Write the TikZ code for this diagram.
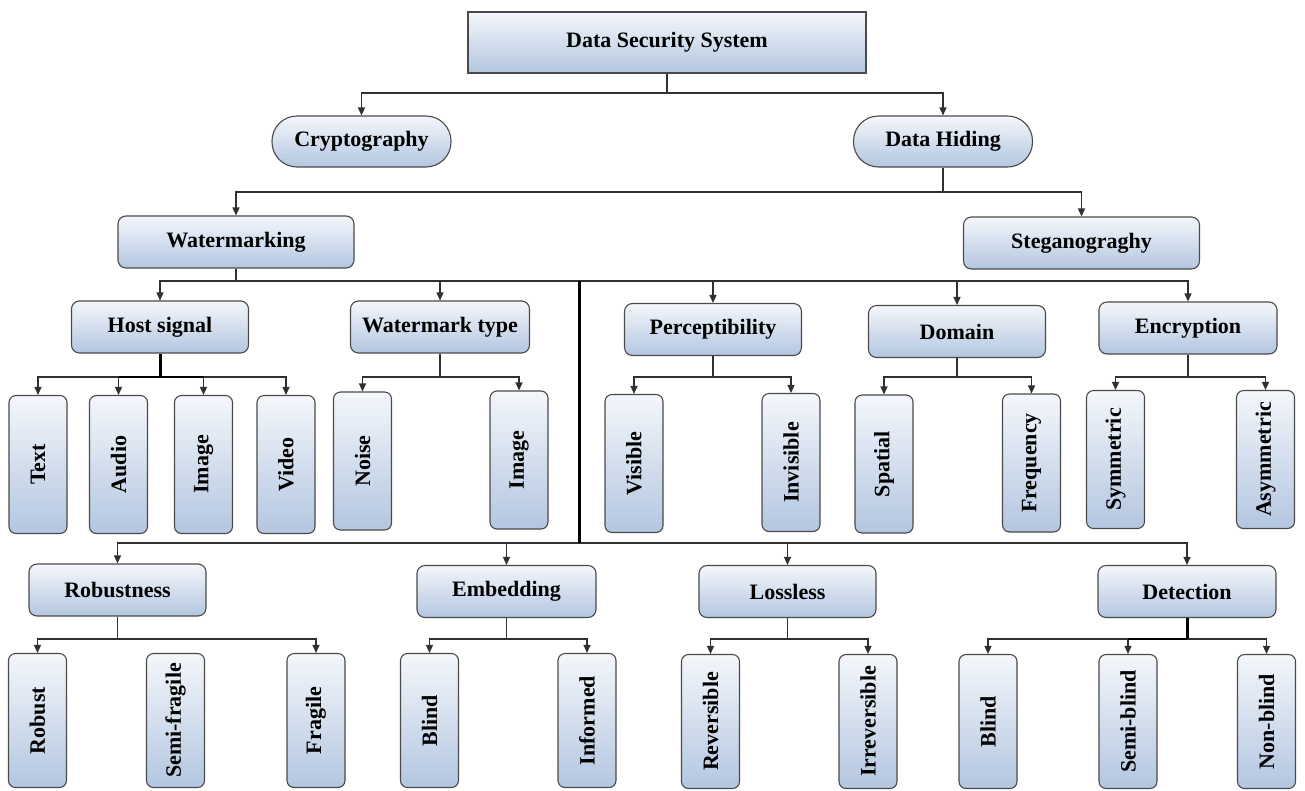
\documentclass[tikz,border=0pt]{standalone}
\usepackage{fontspec}
\setmainfont{Liberation Serif}
\usetikzlibrary{arrows.meta,calc}
\definecolor{boxline}{HTML}{4A4A4A}
\definecolor{gradtop}{HTML}{F4F7FB}
\definecolor{gradbot}{HTML}{B3C6E0}
\definecolor{wire}{HTML}{303030}
\begin{document}
\begin{tikzpicture}[x=1pt,y=-1pt,
  shaded/.style={draw=boxline, line width=1.1pt, top color=gradtop, bottom color=gradbot,
    inner sep=0pt, text=black, font=\fontsize{22}{26}\selectfont\bfseries},
  rootbox/.style={shaded, minimum width=398pt, minimum height=61pt},
  pill/.style={shaded, rounded corners=25pt, minimum width=179pt, minimum height=51pt},
  wide/.style={shaded, rounded corners=8pt, minimum width=236pt, minimum height=52pt},
  cat/.style={shaded, rounded corners=8pt, minimum width=177pt, minimum height=52pt},
  leaf/.style={shaded, rounded corners=7pt, minimum width=58pt, minimum height=138pt},
  leafb/.style={leaf, minimum height=134pt},
  conn/.style={draw=wire, line width=1.3pt},
  heavy/.style={draw=black, line width=3pt},
  semiheavy/.style={draw=black, line width=2.2pt},
  arr/.style={conn, -{Triangle[length=8pt,width=7pt]}}]
\useasboundingbox (0,0) rectangle (1305,790);
\fill[white] (0,0) rectangle (1305,790);

% upper levels
\node[rootbox] (root) at (667,42.5) {Data Security System};
\node[pill] (crypto) at (361.5,141.5) {Cryptography};
\node[pill] (hiding) at (943,141.5) {Data Hiding};
\node[wide] (wmark) at (236,242) {Watermarking};
\node[wide] (stego) at (1081.5,243) {Steganograghy};

% second level categories
\node[cat] (host) at (160,327) {Host signal};
\node[cat, minimum width=179pt] (wtype) at (440,327) {Watermark type};
\node[cat] (percep) at (713,329.5) {Perceptibility};
\node[cat] (domain) at (957,331.5) {Domain};
\node[cat, minimum width=178pt] (encr) at (1188,328) {Encryption};

\node[cat] (robness) at (117.5,590) {Robustness};
\node[cat, minimum width=179pt] (embed) at (506.5,591.5) {Embedding};
\node[cat] (lossless) at (787.5,591.5) {Lossless};
\node[cat, minimum width=178pt] (detect) at (1187,591.5) {Detection};

% leaves of the middle row
\node[leaf] (text) at (38,464.5) {\rotatebox{90}{Text}};
\node[leaf] (audio) at (118.5,464.5) {\rotatebox{90}{Audio}};
\node[leaf] (image) at (203.5,464.5) {\rotatebox{90}{Image}};
\node[leaf] (video) at (286,464.5) {\rotatebox{90}{Video}};
\node[leaf] (noise) at (362.5,461) {\rotatebox{90}{Noise}};
\node[leaf] (wimage) at (519,460) {\rotatebox{90}{Image}};
\node[leaf] (visible) at (634,463.5) {\rotatebox{90}{Visible}};
\node[leaf] (invisible) at (791,462.5) {\rotatebox{90}{Invisible}};
\node[leaf] (spatial) at (884,464) {\rotatebox{90}{Spatial}};
\node[leaf] (freq) at (1031.5,463) {\rotatebox{90}{Frequency}};
\node[leaf] (sym) at (1115.5,459.5) {\rotatebox{90}{Symmetric}};
\node[leaf] (asym) at (1265.5,459.5) {\rotatebox{90}{Asymmetric}};

% leaves of the bottom row
\node[leafb] (robust) at (37.5,720.5) {\rotatebox{90}{Robust}};
\node[leafb] (semifr) at (175.5,720.5) {\rotatebox{90}{Semi-fragile}};
\node[leafb] (fragile) at (316,720.5) {\rotatebox{90}{Fragile}};
\node[leafb] (blinda) at (429.5,720.5) {\rotatebox{90}{Blind}};
\node[leafb] (informed) at (587,720.5) {\rotatebox{90}{Informed}};
\node[leafb] (rever) at (710.5,721.5) {\rotatebox{90}{Reversible}};
\node[leafb] (irrever) at (868,721.5) {\rotatebox{90}{Irreversible}};
\node[leafb] (blindb) at (988,721.5) {\rotatebox{90}{Blind}};
\node[leafb] (semibl) at (1128,721.5) {\rotatebox{90}{Semi-blind}};
\node[leafb] (nonbl) at (1266.5,721.5) {\rotatebox{90}{Non-blind}};

% bus levels
\coordinate (y1) at (0,93);
\coordinate (y2) at (0,192);
\coordinate (y3) at (0,281);
\coordinate (y4) at (0,377);
\coordinate (y6) at (0,639);
\coordinate (spinetop) at (579,281);
\coordinate (spinebot) at (579,543);

% root to the two branches
\draw[conn] (root.south) -- (root.south |- y1);
\draw[arr] (root.south |- y1) -| (crypto.north);
\draw[arr] (root.south |- y1) -| (hiding.north);

% data hiding to watermarking and steganography
\draw[conn] (hiding.south) -- (hiding.south |- y2);
\draw[arr] (hiding.south |- y2) -| (wmark.north);
\draw[arr] (hiding.south |- y2) -| (stego.north);

% watermarking to the upper categories
\draw[conn] (wmark.south) -- (wmark.south |- y3);
\draw[arr] (wmark.south |- y3) -| (host.north);
\draw[arr] (wmark.south |- y3) -| (wtype.north);
\draw[arr] (wmark.south |- y3) -| (percep.north);
\draw[arr] (wmark.south |- y3) -| (domain.north);
\draw[arr] (wmark.south |- y3) -| (encr.north);

% spine down to the lower categories
\draw[arr] (spinebot) -| (robness.north);
\draw[arr] (spinebot) -| (embed.north);
\draw[arr] (spinebot) -| (lossless.north);
\draw[arr] (spinebot) -| (detect.north);
\draw[heavy] (spinetop) -- (spinebot);

% host signal
\draw[arr] (host.south |- y4) -| (text.north);
\draw[arr] (host.south |- y4) -| (audio.north);
\draw[arr] (host.south |- y4) -| (image.north);
\draw[arr] (host.south |- y4) -| (video.north);
\draw[semiheavy] (audio.north |- y4) -- (image.north |- y4);
\draw[heavy] (host.south) -- (host.south |- y4);

% watermark type
\draw[conn] (wtype.south) -- (wtype.south |- y4);
\draw[arr] (wtype.south |- y4) -| (noise.north);
\draw[arr] (wtype.south |- y4) -| (wimage.north);

% perceptibility
\draw[conn] (percep.south) -- (percep.south |- y4);
\draw[arr] (percep.south |- y4) -| (visible.north);
\draw[arr] (percep.south |- y4) -| (invisible.north);

% domain
\draw[conn] (domain.south) -- (domain.south |- y4);
\draw[arr] (domain.south |- y4) -| (spatial.north);
\draw[arr] (domain.south |- y4) -| (freq.north);

% encryption
\draw[conn] (encr.south) -- (encr.south |- y4);
\draw[arr] (encr.south |- y4) -| (sym.north);
\draw[arr] (encr.south |- y4) -| (asym.north);

% robustness
\draw[conn] (robness.south) -- (robness.south |- y6);
\draw[arr] (robness.south |- y6) -| (robust.north);
\draw[arr] (robness.south |- y6) -| (fragile.north);

% embedding
\draw[conn] (embed.south) -- (embed.south |- y6);
\draw[arr] (embed.south |- y6) -| (blinda.north);
\draw[arr] (embed.south |- y6) -| (informed.north);

% lossless
\draw[conn] (lossless.south) -- (lossless.south |- y6);
\draw[arr] (lossless.south |- y6) -| (rever.north);
\draw[arr] (lossless.south |- y6) -| (irrever.north);

% detection
\draw[arr] (detect.south |- y6) -| (blindb.north);
\draw[arr] (detect.south |- y6) -| (semibl.north);
\draw[arr] (detect.south |- y6) -| (nonbl.north);
\draw[semiheavy] (semibl.north |- y6) -- (detect.south |- y6);
\draw[heavy] (detect.south) -- (detect.south |- y6);
\end{tikzpicture}
\end{document}
